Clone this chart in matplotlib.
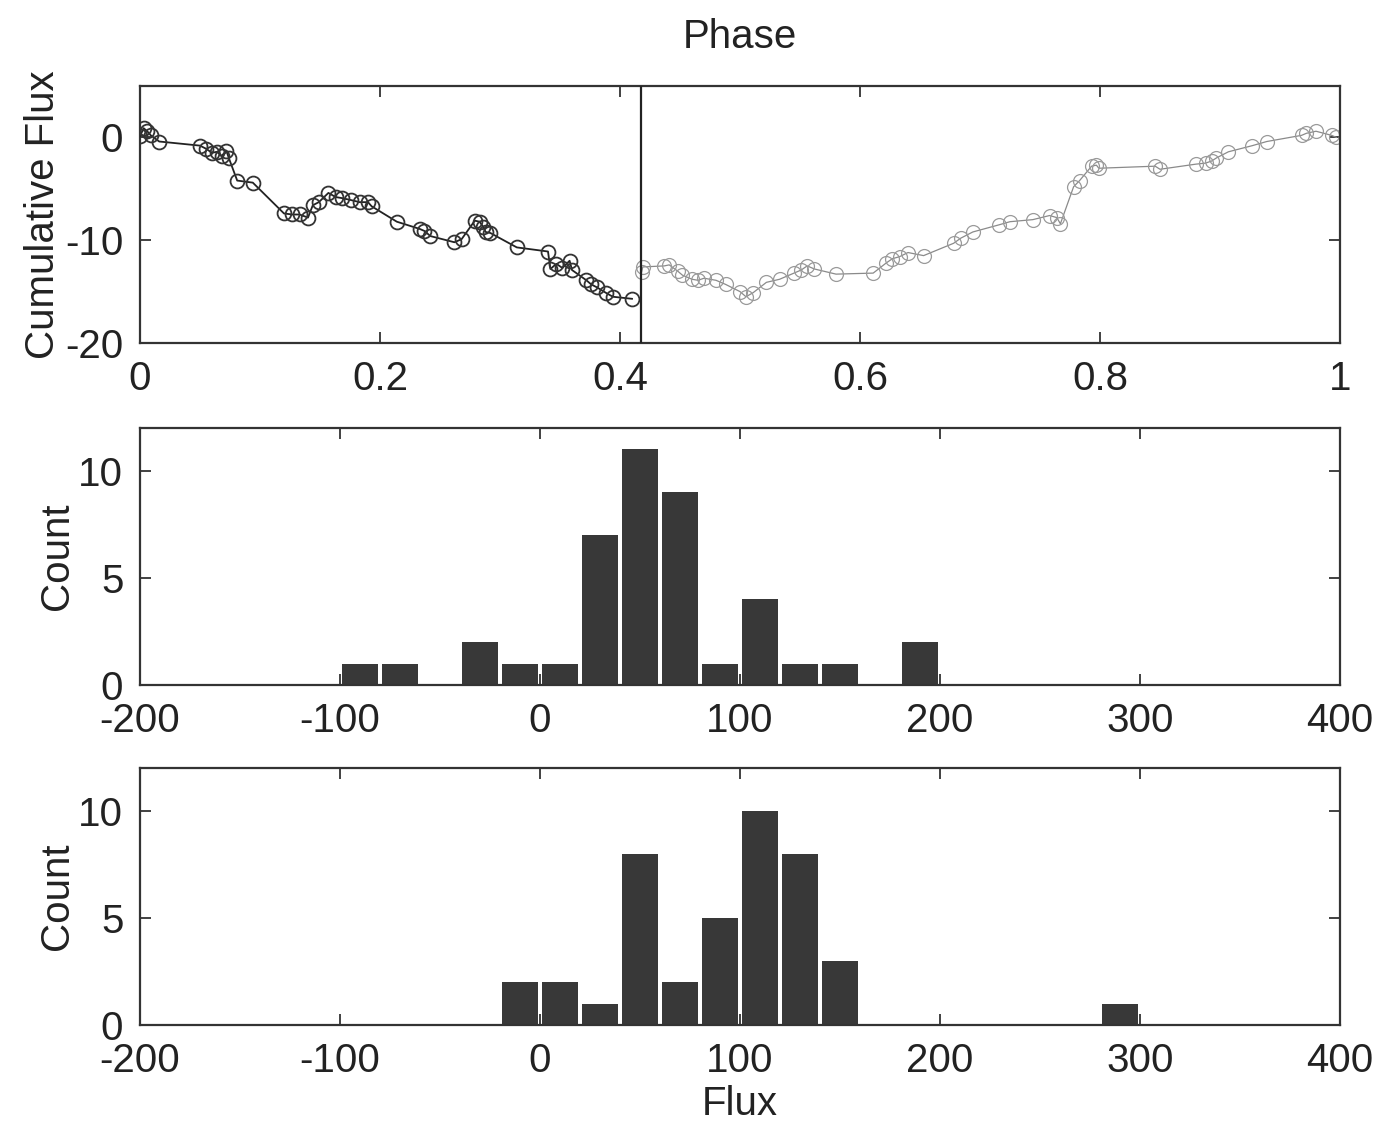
import matplotlib
matplotlib.use("Agg")
import matplotlib.pyplot as plt
import numpy as np

plt.rcParams['font.family'] = ['Liberation Sans', 'DejaVu Sans']
plt.rcParams['axes.unicode_minus'] = False

# ---- top panel: cumulative flux vs phase ----
phase_a = [0.000, 0.003, 0.006, 0.009, 0.016, 0.050, 0.055, 0.060, 0.064, 0.068,
           0.072, 0.074, 0.081, 0.094, 0.120, 0.127, 0.133, 0.140, 0.144, 0.149,
           0.157, 0.163, 0.168, 0.176, 0.183, 0.190, 0.193, 0.214, 0.233, 0.237,
           0.242, 0.262, 0.268, 0.279, 0.283, 0.286, 0.288, 0.292, 0.314, 0.340,
           0.342, 0.347, 0.352, 0.358, 0.360, 0.372, 0.376, 0.381, 0.388, 0.394,
           0.410]
cumflux_a = [0.1, 0.9, 0.6, 0.2, -0.4, -0.8, -1.1, -1.5, -1.4, -1.8,
             -1.3, -2.0, -4.2, -4.4, -7.4, -7.5, -7.5, -7.8, -6.6, -6.3,
             -5.4, -5.8, -5.9, -6.1, -6.3, -6.3, -6.7, -8.2, -8.9, -9.1,
             -9.6, -10.2, -9.9, -8.1, -8.2, -8.7, -9.2, -9.3, -10.7, -11.1,
             -12.8, -12.3, -12.7, -12.0, -12.9, -13.9, -14.3, -14.6, -15.1, -15.5,
             -15.7]

phase_b = [0.418, 0.419, 0.437, 0.441, 0.448, 0.452, 0.460, 0.465, 0.470, 0.480,
           0.488, 0.500, 0.505, 0.511, 0.522, 0.533, 0.545, 0.551, 0.556, 0.562,
           0.580, 0.611, 0.622, 0.627, 0.633, 0.640, 0.653, 0.678, 0.684, 0.694,
           0.716, 0.725, 0.744, 0.758, 0.764, 0.767, 0.778, 0.783, 0.793, 0.797,
           0.799, 0.846, 0.850, 0.880, 0.888, 0.893, 0.897, 0.907, 0.927, 0.939,
           0.968, 0.972, 0.980, 0.993, 0.997]
cumflux_b = [-13.1, -12.6, -12.5, -12.4, -13.0, -13.4, -13.8, -13.9, -13.7, -13.9,
             -14.3, -15.0, -15.5, -15.1, -14.1, -13.8, -13.2, -12.9, -12.5, -12.8,
             -13.3, -13.2, -12.2, -11.8, -11.6, -11.2, -11.5, -10.3, -9.8, -9.2,
             -8.5, -8.2, -8.0, -7.6, -7.8, -8.4, -4.8, -4.2, -2.8, -2.7,
             -3.0, -2.8, -3.1, -2.6, -2.5, -2.3, -2.0, -1.4, -0.8, -0.4,
             0.2, 0.4, 0.6, 0.2, 0.0]

split_phase = 0.4175

phase_ticks = [0, 0.2, 0.4, 0.6, 0.8, 1]
phase_ticklabels = ['0', '0.2', '0.4', '0.6', '0.8', '1']
cum_ticks = [-20, -10, 0]

# ---- histograms ----
bin_centers_1 = [-90, -70, -30, -10, 10, 30, 50, 70, 90, 110, 130, 150, 190]
counts_1 = [1, 1, 2, 1, 1, 7, 11, 9, 1, 4, 1, 1, 2]

bin_centers_2 = [-10, 10, 30, 50, 70, 90, 110, 130, 150, 290]
counts_2 = [2, 2, 1, 8, 2, 5, 10, 8, 3, 1]

flux_ticks = [-200, -100, 0, 100, 200, 300, 400]
count_ticks = [0, 5, 10]

FS = 29
EDGE = '#333333'
BAR = '#383838'
TXT = '#222222'

fig = plt.figure(figsize=(13.78, 11.21), dpi=100)
W, H = 1378, 1121

def ax_at(x0, y0, x1, y1):
    return fig.add_axes([x0 / W, 1 - y1 / H, (x1 - x0) / W, (y1 - y0) / H])

def style(ax):
    for s in ax.spines.values():
        s.set_color(EDGE)
        s.set_linewidth(1.6)
    ax.tick_params(direction='in', length=8, width=1.3, color=EDGE,
                   top=True, right=True, labelsize=FS, labelcolor=TXT,
                   pad=12)

# top
ax1 = ax_at(140, 86, 1340, 343)
ax1.plot(phase_b, cumflux_b, '-', color='#8a8a8a', lw=0.9, zorder=2)
ax1.plot(phase_b, cumflux_b, 'o', mfc='none', mec='#9a9a9a', mew=0.9, ms=10, zorder=2)
ax1.plot(phase_a, cumflux_a, '-', color='#222222', lw=1.3, zorder=3)
ax1.plot(phase_a, cumflux_a, 'o', mfc='none', mec='#333333', mew=1.3, ms=10, zorder=3)
ax1.axvline(split_phase, color='#222222', lw=1.6, zorder=4)
ax1.set_xlim(0, 1)
ax1.set_ylim(-20, 5)
ax1.set_xticks(phase_ticks)
ax1.set_xticklabels(phase_ticklabels)
ax1.set_yticks(cum_ticks)
ax1.set_ylabel('Cumulative Flux', fontsize=FS, color=TXT, labelpad=2)
ax1.set_title('Phase', fontsize=FS, color=TXT, pad=27)
style(ax1)

# middle
ax2 = ax_at(140, 428, 1340, 685)
ax2.bar(bin_centers_1, counts_1, width=18, color=BAR, edgecolor='none', zorder=2)
ax2.set_xlim(-200, 400)
ax2.set_ylim(0, 12)
ax2.set_xticks(flux_ticks)
ax2.set_yticks(count_ticks)
ax2.set_ylabel('Count', fontsize=FS, color=TXT, labelpad=2)
style(ax2)

# bottom
ax3 = ax_at(140, 768, 1340, 1025)
ax3.bar(bin_centers_2, counts_2, width=18, color=BAR, edgecolor='none', zorder=2)
ax3.set_xlim(-200, 400)
ax3.set_ylim(0, 12)
ax3.set_xticks(flux_ticks)
ax3.set_yticks(count_ticks)
ax3.set_ylabel('Count', fontsize=FS, color=TXT, labelpad=2)
ax3.set_xlabel('Flux', fontsize=FS, color=TXT, labelpad=4)
style(ax3)

fig.savefig('out.png', dpi=100, facecolor='white')
